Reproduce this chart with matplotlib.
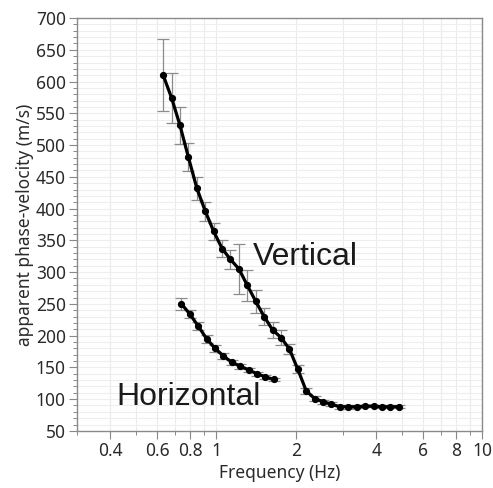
import matplotlib
matplotlib.use("Agg")
import matplotlib.pyplot as plt
from matplotlib.ticker import FixedLocator, NullFormatter

vert_freq = [0.633, 0.681, 0.732, 0.787, 0.847, 0.911, 0.980, 1.054, 1.133, 1.219,
             1.311, 1.410, 1.516, 1.631, 1.754, 1.886, 2.029, 2.182, 2.347, 2.524,
             2.714, 2.919, 3.140, 3.377, 3.632, 3.906, 4.201, 4.518, 4.859]
vert_vel = [610, 574, 531, 481, 432, 396, 364, 337, 320, 305,
            279, 254, 230, 209, 197, 179, 147, 113, 101, 96,
            92, 88, 88, 88, 89, 89, 88, 88, 88]
vert_err = [57, 40, 29, 22, 18, 15, 14, 13, 15, 40,
            24, 18, 14, 12, 12, 8, 6, 5, 4, 3,
            3, 3, 3, 2, 2, 2, 2, 2, 2]

hor_freq = [0.741, 0.797, 0.857, 0.922, 0.991, 1.066, 1.147, 1.233, 1.326, 1.426, 1.534, 1.650]
hor_vel = [250, 234, 215, 195, 180, 168, 158, 152, 146, 140, 135, 131]
hor_err = [9, 7, 6, 6, 5, 5, 4, 4, 3, 3, 3, 2]

x_ticks = [0.4, 0.6, 0.8, 1, 2, 4, 6, 8, 10]
x_ticklabels = ["0.4", "0.6", "0.8", "1", "2", "4", "6", "8", "10"]
x_minor = [0.3, 0.5, 0.7, 0.9, 3, 5, 7, 9]
y_ticks = list(range(50, 701, 50))

plt.rcParams['font.family'] = ['Noto Sans', 'DejaVu Sans']

fig = plt.figure(figsize=(4.93, 4.88), dpi=100)
ax = fig.add_axes([0.156, 0.117, 0.822, 0.846])

ax.set_xscale('log')
ax.set_xlim(0.3, 10)
ax.set_ylim(50, 700)

# grid
grid_x = sorted(x_ticks + x_minor)
for gx in grid_x:
    ax.axvline(gx, color='#ebebeb', lw=0.8, zorder=0)
for gy in range(50, 701, 10):
    ax.axhline(gy, color='#eeeeee', lw=0.8, zorder=0)

ebkw = dict(ecolor='#8c8c8c', elinewidth=0.9, capsize=4, capthick=0.9)
ax.errorbar(vert_freq, vert_vel, yerr=vert_err, fmt='none', zorder=2, **ebkw)
ax.errorbar(hor_freq, hor_vel, yerr=hor_err, fmt='none', zorder=2, **ebkw)
ax.plot(vert_freq, vert_vel, color='black', lw=2.3, marker='o', ms=4.2, zorder=3)
ax.plot(hor_freq, hor_vel, color='black', lw=2.3, marker='o', ms=4.2, zorder=3)

ax.xaxis.set_major_locator(FixedLocator(x_ticks))
ax.set_xticklabels(x_ticklabels)
ax.xaxis.set_minor_locator(FixedLocator(x_minor))
ax.xaxis.set_minor_formatter(NullFormatter())
ax.yaxis.set_major_locator(FixedLocator(y_ticks))
ax.yaxis.set_minor_locator(FixedLocator(list(range(50, 701, 10))))

ax.tick_params(axis='both', which='major', direction='out', length=6, width=0.8,
               color='#888888', labelsize=12.5, labelcolor='#2a2a2a', pad=2)
ax.tick_params(axis='both', which='minor', direction='out', length=3, width=0.7,
               color='#888888')
for s in ax.spines.values():
    s.set_color('#8a8a8a')
    s.set_linewidth(1.0)

ax.set_xlabel('Frequency (Hz)', fontsize=12.5, color='#2a2a2a', labelpad=3)
ax.set_ylabel('apparent phase-velocity (m/s)', fontsize=12.5, color='#2a2a2a', labelpad=1)

ax.text(1.37, 324, 'Vertical', family='Liberation Sans', fontsize=23, color='#1a1a1a',
        ha='left', va='center')
ax.text(0.421, 103, 'Horizontal', family='Liberation Sans', fontsize=23, color='#1a1a1a',
        ha='left', va='center')

fig.savefig('out.png', dpi=100)
